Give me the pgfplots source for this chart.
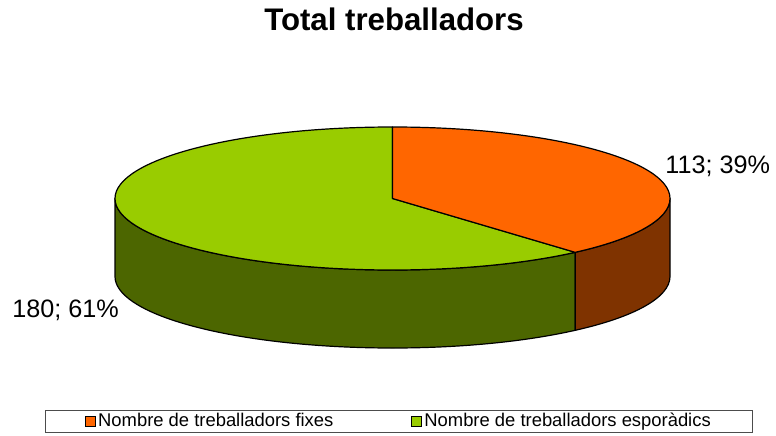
\documentclass[border=0pt]{standalone}
\usepackage{fontspec}
\setmainfont{Liberation Sans}
\usepackage{pgfplots}
\usepackage{pgfplotstable}
\pgfplotsset{compat=1.18}
\definecolor{orA}{HTML}{FF6600}
\definecolor{orB}{HTML}{7F3300}
\definecolor{grA}{HTML}{99CC00}
\definecolor{grB}{HTML}{4C6600}
\pgfplotstableread{
label value
fixes 113
esporadics 180
}\piedata
\begin{document}
\begin{tikzpicture}
\pgfplotstablegetelem{0}{value}\of\piedata \let\va\pgfplotsretval
\pgfplotstablegetelem{1}{value}\of\piedata \let\vb\pgfplotsretval
\pgfmathsetmacro{\fracA}{\va/(\va+\vb)}
\pgfmathsetmacro{\angA}{360*\fracA}
\pgfmathsetmacro{\endA}{90-\angA}
\pgfmathsetmacro{\endB}{\endA+360}
\def\rx{138.75pt}\def\ry{35.75pt}\def\dz{39pt}
\begin{axis}[
  scale only axis, width=388pt, height=217.5pt,
  xmin=0, xmax=776, ymin=0, ymax=435,
  hide axis, clip=false,
  legend columns=2,
  legend style={at={(axis cs:399,13.5)}, anchor=center,
    draw=black!70, line width=0.5pt, fill=white,
    font=\fontsize{9.2}{11}\selectfont,
    inner xsep=20pt, inner ysep=0.5pt,
    nodes={inner xsep=1pt, inner ysep=1pt},
    /tikz/every even column/.append style={column sep=38pt}},
]
\addlegendimage{legend image code/.code={\filldraw[fill=orA,draw=black,line width=0.5pt] (0pt,-2.5pt) rectangle (5pt,2.5pt);}}
\addlegendentry{Nombre de treballadors fixes}
\addlegendimage{legend image code/.code={\filldraw[fill=grA,draw=black,line width=0.5pt] (0pt,-2.5pt) rectangle (5pt,2.5pt);}}
\addlegendentry{Nombre de treballadors esporàdics}
\path (axis cs:0,0) rectangle (axis cs:776,435);
% sides
\filldraw[fill=grB, draw=black, line width=0.6pt, line join=round]
  (axis cs:392.5,236.5) ++(180:138.75pt and 35.75pt)
  arc[start angle=180, end angle=\endB, x radius=\rx, y radius=\ry]
  -- ++(0,-\dz)
  arc[start angle=\endB, end angle=180, x radius=\rx, y radius=\ry] -- cycle;
\filldraw[fill=orB, draw=black, line width=0.6pt, line join=round]
  (axis cs:392.5,236.5) ++(\endA:138.75pt and 35.75pt)
  arc[start angle=\endA, end angle=0, x radius=\rx, y radius=\ry]
  -- ++(0,-\dz)
  arc[start angle=0, end angle=\endA, x radius=\rx, y radius=\ry] -- cycle;
% tops
\filldraw[fill=grA, draw=black, line width=0.6pt, line join=round]
  (axis cs:392.5,236.5) -- ++(90:138.75pt and 35.75pt)
  arc[start angle=90, end angle=\endB, x radius=\rx, y radius=\ry] -- cycle;
\filldraw[fill=orA, draw=black, line width=0.6pt, line join=round]
  (axis cs:392.5,236.5) -- ++(90:138.75pt and 35.75pt)
  arc[start angle=90, end angle=\endA, x radius=\rx, y radius=\ry] -- cycle;
% labels
\node[anchor=base west, font=\fontsize{12.6}{14}\selectfont, inner sep=0pt] at (axis cs:665,262) {113; 39\%};
\node[anchor=base west, font=\fontsize{12.6}{14}\selectfont, inner sep=0pt] at (axis cs:12,118) {180; 61\%};
\node[anchor=base, font=\fontsize{15.6}{18}\selectfont\bfseries, inner sep=0pt] at (axis cs:394,405) {Total treballadors};
\end{axis}
\end{tikzpicture}
\end{document}
